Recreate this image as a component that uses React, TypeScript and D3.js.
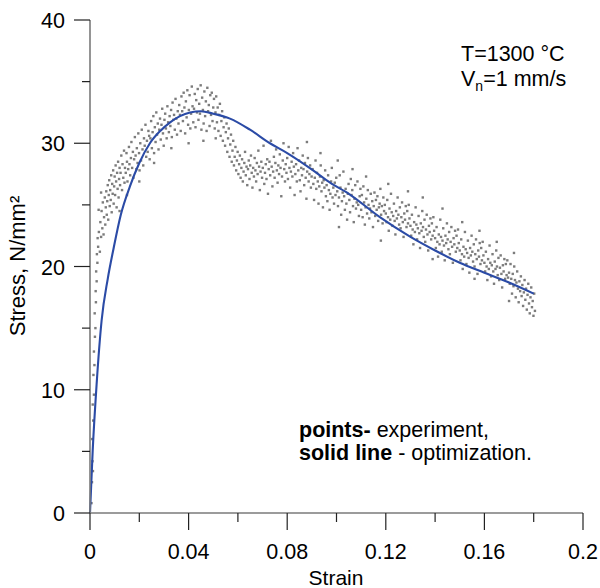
import * as d3 from 'd3';

const rise: [number, number][] = [
  [0.0006,0.8],[0.0008,2.5],[0.0010,4.2],[0.0012,3.4],[0.0009,6.0],[0.0013,7.5],[0.0011,8.8],[0.0016,9.6],
  [0.0014,11.2],[0.0018,12.0],[0.0016,13.1],[0.0020,14.3],[0.0022,15.0],[0.0019,16.2],[0.0024,17.1],[0.0023,18.0],
  [0.0027,18.8],[0.0025,19.6],[0.0030,20.3],[0.0028,21.0],[0.0033,21.6],[0.0031,22.3],[0.0035,24.6],[0.0045,26.0],
];

const climb: [number, number][] = [
  [0.0036,22.8],[0.0040,21.2],[0.0042,23.6],[0.0045,22.4],[0.0047,24.5],[0.0050,23.1],[0.0052,25.2],[0.0055,22.6],
  [0.0057,24.0],[0.0060,25.6],[0.0062,23.4],[0.0064,24.8],
  [0.0066,26.1],[0.0068,24.2],[0.0070,25.3],[0.0072,26.6],[0.0074,23.8],[0.0076,25.8],[0.0078,27.0],[0.0080,24.9],
  [0.0082,26.2],[0.0084,25.4],[0.0086,27.4],[0.0088,24.4],[0.0090,26.7],[0.0092,25.9],
  [0.0094,27.8],[0.0096,25.1],[0.0098,26.5],[0.0100,27.3],[0.0102,25.8],[0.0104,28.2],[0.0106,26.9],[0.0108,24.8],
  [0.0110,27.6],[0.0112,26.3],[0.0114,28.5],[0.0116,25.6],[0.0118,27.1],[0.0120,28.0],[0.0122,26.6],
  [0.0124,27.6],[0.0127,29.0],[0.0130,26.2],[0.0132,28.3],[0.0135,27.2],[0.0138,29.4],[0.0140,26.8],[0.0142,28.0],
  [0.0145,27.6],[0.0148,29.2],[0.0150,28.5],[0.0152,26.9],[0.0155,27.9],[0.0158,29.7],[0.0160,28.3],
  [0.0163,27.4],[0.0166,28.8],[0.0168,30.1],[0.0171,28.0],[0.0174,29.3],[0.0176,27.2],[0.0179,28.7],[0.0182,30.5],
  [0.0185,29.0],[0.0188,27.9],[0.0190,29.6],[0.0193,28.4],[0.0196,30.8],[0.0199,29.2],[0.0201,27.8],
  [0.0204,30.0],[0.0207,28.6],[0.0210,31.1],[0.0213,29.5],[0.0216,28.2],[0.0219,30.4],[0.0222,29.8],[0.0225,31.5],
  [0.0228,28.9],[0.0231,30.2],[0.0234,29.3],[0.0237,31.0],[0.0240,30.6],[0.0242,28.7],
  [0.0245,30.4],[0.0248,31.8],[0.0251,29.6],[0.0254,30.9],[0.0257,32.2],[0.0260,29.2],[0.0263,31.3],[0.0266,30.1],
  [0.0269,32.5],[0.0272,30.7],[0.0275,31.6],[0.0278,29.5],[0.0281,31.1],[0.0284,32.0],
  [0.0287,30.3],[0.0290,31.5],[0.0293,32.8],[0.0296,30.8],[0.0299,29.8],[0.0302,31.9],[0.0305,32.4],[0.0308,31.2],
  [0.0311,30.4],[0.0314,33.0],[0.0317,31.7],[0.0320,30.9],[0.0323,32.2],
  [0.0326,31.4],[0.0329,32.7],[0.0332,30.5],[0.0335,33.3],[0.0338,31.9],[0.0341,32.3],[0.0344,31.1],[0.0347,33.6],
  [0.0350,32.0],[0.0353,30.7],[0.0356,32.6],[0.0359,31.6],[0.0362,33.1],
  [0.0120,24.5],[0.0150,25.8],[0.0200,26.9],[0.0260,28.4],[0.0330,29.6],
];

const peak: [number, number][] = [
  [0.0365,32.3],[0.0368,31.0],[0.0371,33.8],[0.0374,32.6],[0.0377,31.8],[0.0380,34.1],[0.0383,32.9],[0.0386,30.8],
  [0.0389,33.4],[0.0392,32.1],[0.0395,34.3],[0.0398,31.5],[0.0401,32.7],[0.0404,33.9],[0.0407,31.2],[0.0410,32.4],
  [0.0413,34.6],[0.0416,33.0],[0.0419,31.7],[0.0422,32.8],[0.0425,34.0],[0.0428,31.3],[0.0431,33.5],[0.0434,32.5],
  [0.0437,34.4],[0.0440,31.9],
  [0.0443,33.2],[0.0446,32.4],[0.0449,34.7],[0.0452,31.1],[0.0455,33.7],[0.0458,32.7],[0.0461,31.6],[0.0464,34.2],
  [0.0467,32.2],[0.0470,33.4],[0.0473,31.0],[0.0476,34.5],[0.0479,32.6],[0.0482,33.1],[0.0485,31.4],[0.0488,33.9],
  [0.0491,32.3],[0.0494,34.1],[0.0497,31.8],[0.0500,32.9],[0.0503,33.6],[0.0506,31.2],[0.0509,32.5],[0.0512,33.8],
  [0.0515,31.7],[0.0518,32.9],
  [0.0400,30.0],[0.0460,30.2],[0.0510,30.4],
];

const drop: [number, number][] = [
  [0.0521,31.0],[0.0524,32.3],[0.0527,33.2],[0.0530,30.6],[0.0533,31.8],[0.0536,32.6],[0.0539,30.2],[0.0542,31.3],
  [0.0545,32.1],[0.0548,29.8],[0.0551,30.9],[0.0554,31.6],[0.0557,29.3],[0.0560,30.4],[0.0563,31.2],[0.0566,28.9],
  [0.0569,29.9],[0.0572,30.7],[0.0575,28.5],[0.0578,29.4],[0.0581,30.2],[0.0584,28.2],[0.0587,28.9],[0.0590,29.7],
  [0.0593,27.8],[0.0596,28.6],[0.0599,29.3],[0.0602,27.5],
  [0.0605,28.3],[0.0608,29.0],[0.0611,27.2],[0.0614,28.0],[0.0617,28.7],[0.0620,26.9],[0.0623,27.7],[0.0626,28.4],
  [0.0629,29.3],[0.0632,27.4],[0.0635,28.1],[0.0638,26.6],[0.0641,27.9],[0.0644,28.6],[0.0647,27.1],[0.0650,28.2],
  [0.0653,29.0],[0.0656,27.6],[0.0659,26.4],[0.0662,28.0],[0.0665,27.3],[0.0668,28.8],[0.0671,27.8],[0.0674,26.9],
  [0.0677,28.4],[0.0680,27.5],[0.0683,29.4],[0.0686,28.1],[0.0689,26.2],[0.0692,27.7],[0.0695,28.5],[0.0698,27.2],
];

const plateau: [number, number][] = [
  [0.0701,28.0],[0.0704,29.8],[0.0707,26.7],[0.0710,27.6],[0.0713,28.3],[0.0716,27.1],[0.0719,28.7],[0.0722,25.9],
  [0.0725,27.9],[0.0728,28.5],[0.0731,27.4],[0.0734,30.2],[0.0737,28.1],[0.0740,26.5],[0.0743,27.7],[0.0746,28.9],
  [0.0749,27.2],[0.0752,28.4],[0.0755,29.5],[0.0758,27.8],[0.0761,26.8],[0.0764,28.2],[0.0767,27.5],[0.0770,29.1],
  [0.0773,28.0],[0.0776,25.7],[0.0779,27.3],[0.0782,28.6],[0.0785,30.0],[0.0788,27.9],[0.0791,26.9],[0.0794,28.3],
  [0.0797,27.6],
  [0.0800,28.8],[0.0803,27.1],[0.0806,29.7],[0.0809,28.0],[0.0812,26.4],[0.0815,27.7],[0.0818,28.5],[0.0821,27.3],
  [0.0824,29.2],[0.0827,28.1],[0.0830,25.8],[0.0833,27.5],[0.0836,28.3],[0.0839,26.9],[0.0842,29.6],[0.0845,27.8],
  [0.0848,28.6],[0.0851,27.0],[0.0854,26.1],[0.0857,28.0],[0.0860,27.4],[0.0863,29.0],[0.0866,27.9],[0.0869,26.6],
  [0.0872,28.4],[0.0875,27.2],[0.0878,25.5],[0.0881,27.7],[0.0884,28.8],[0.0887,26.9],[0.0890,27.5],[0.0893,28.2],
  [0.0896,26.4],[0.0899,27.3],[0.0880,30.1],
];

const descent: [number, number][] = [
  [0.0903,27.9],[0.0906,26.7],[0.0909,25.4],[0.0912,27.2],[0.0915,28.6],[0.0918,26.3],[0.0921,27.6],[0.0924,26.9],
  [0.0927,25.1],[0.0930,26.5],[0.0933,27.3],[0.0936,28.2],[0.0939,26.1],[0.0942,26.8],[0.0945,24.8],[0.0948,27.0],
  [0.0951,26.4],[0.0954,27.8],[0.0957,25.7],[0.0960,26.6],[0.0963,25.3],[0.0966,27.4],[0.0969,26.2],[0.0972,24.6],
  [0.0975,25.9],[0.0978,26.9],[0.0981,28.0],[0.0984,25.6],[0.0987,26.4],[0.0990,25.1],[0.0993,26.8],[0.0996,25.8],
  [0.0999,27.2],
  [0.1003,26.1],[0.1006,24.9],[0.1010,25.6],[0.1013,27.4],[0.1016,26.4],[0.1019,24.2],[0.1022,25.3],[0.1025,26.0],
  [0.1028,27.7],[0.1031,25.7],[0.1034,24.6],[0.1037,26.3],[0.1040,25.1],[0.1043,23.8],[0.1046,25.9],[0.1049,26.7],
  [0.1052,25.4],[0.1055,24.4],[0.1058,27.1],[0.1061,25.8],[0.1064,26.2],[0.1067,24.9],[0.1070,23.6],[0.1073,25.5],
  [0.1076,26.6],[0.1079,24.7],[0.1082,25.2],[0.1085,26.9],[0.1088,25.0],[0.1091,24.1],[0.1094,25.7],[0.1097,26.3],
  [0.1100,24.6],[0.1103,25.8],[0.1106,24.0],[0.1109,26.5],[0.1112,25.2],[0.1115,23.4],[0.1118,24.8],[0.1121,25.5],
  [0.1124,24.3],[0.1127,26.2],[0.1130,25.0],[0.1133,23.9],[0.1136,24.7],[0.1139,25.9],[0.1142,24.4],[0.1145,25.3],
  [0.1148,23.2],[0.1151,24.9],[0.1154,26.0],[0.1157,24.1],[0.1160,25.4],[0.1163,24.6],[0.1166,25.7],[0.1169,23.7],
  [0.1172,24.8],[0.1175,25.1],[0.1178,26.3],[0.1181,24.2],[0.1184,24.9],[0.1187,23.5],[0.1190,25.6],[0.1193,24.5],
  [0.1196,25.0],
  [0.1200,24.3],[0.1203,23.6],[0.1206,25.4],[0.1209,24.0],[0.1212,22.9],[0.1215,24.7],[0.1218,23.8],[0.1221,25.9],
  [0.1224,24.4],[0.1227,23.3],[0.1230,24.1],[0.1233,25.1],[0.1236,23.7],[0.1239,22.6],[0.1242,24.5],[0.1245,23.9],
  [0.1248,25.6],[0.1251,24.2],[0.1254,23.4],[0.1257,24.8],[0.1260,23.1],[0.1263,24.0],[0.1266,25.2],[0.1269,23.6],
  [0.1272,22.4],[0.1275,24.3],[0.1278,23.8],[0.1281,24.9],[0.1284,23.2],[0.1287,24.5],[0.1290,23.5],[0.1293,25.0],
  [0.1296,23.9],
  [0.0935,29.2],[0.1005,28.6],[0.1065,27.9],[0.1120,27.3],[0.1210,26.7],[0.1290,26.1],[0.1010,23.2],[0.1180,22.1],
];

const tail: [number, number][] = [
  [0.1300,23.3],[0.1303,22.5],[0.1306,24.2],[0.1309,23.0],[0.1312,21.8],[0.1315,23.6],[0.1318,22.8],[0.1321,24.8],
  [0.1324,23.4],[0.1327,22.2],[0.1330,23.1],[0.1333,24.1],[0.1336,22.7],[0.1339,21.5],[0.1342,23.5],[0.1345,22.9],
  [0.1348,24.5],[0.1351,23.2],[0.1354,22.4],[0.1357,23.8],[0.1360,22.0],[0.1363,23.0],[0.1366,24.2],[0.1369,22.6],
  [0.1372,21.3],[0.1375,23.3],[0.1378,22.8],[0.1381,23.9],[0.1384,22.2],[0.1387,23.5],[0.1390,22.5],[0.1393,24.0],
  [0.1396,22.9],
  [0.1400,22.3],[0.1403,21.5],[0.1406,23.2],[0.1409,22.0],[0.1412,20.8],[0.1415,22.6],[0.1418,21.8],[0.1421,23.8],
  [0.1424,22.4],[0.1427,21.2],[0.1430,22.1],[0.1433,23.1],[0.1436,21.7],[0.1439,20.5],[0.1442,22.5],[0.1445,21.9],
  [0.1448,23.5],[0.1451,22.2],[0.1454,21.4],[0.1457,22.8],[0.1460,21.0],[0.1463,22.0],[0.1466,23.2],[0.1469,21.6],
  [0.1472,20.3],[0.1475,22.3],[0.1478,21.8],[0.1481,22.9],[0.1484,21.2],[0.1487,22.5],[0.1490,21.5],[0.1493,23.0],
  [0.1496,21.9],
  [0.1500,21.3],[0.1503,20.5],[0.1506,22.2],[0.1509,21.0],[0.1512,19.8],[0.1515,21.6],[0.1518,20.8],[0.1521,22.8],
  [0.1524,21.4],[0.1527,20.2],[0.1530,21.1],[0.1533,22.1],[0.1536,20.7],[0.1539,19.5],[0.1542,21.5],[0.1545,20.9],
  [0.1548,22.5],[0.1551,21.2],[0.1554,20.4],[0.1557,21.8],[0.1560,20.0],[0.1563,21.0],[0.1566,22.2],[0.1569,20.6],
  [0.1572,19.4],[0.1575,21.3],[0.1578,20.8],[0.1581,21.9],[0.1584,20.2],[0.1587,21.5],[0.1590,20.5],[0.1593,22.0],
  [0.1596,20.9],
  [0.1600,20.3],[0.1603,19.6],[0.1606,21.2],[0.1609,20.0],[0.1612,18.9],[0.1615,20.6],[0.1618,19.8],[0.1621,21.7],
  [0.1624,20.3],[0.1627,19.2],[0.1630,20.1],[0.1633,21.0],[0.1636,19.6],[0.1639,18.6],[0.1642,20.4],[0.1645,19.8],
  [0.1648,21.3],[0.1651,20.0],[0.1654,19.3],[0.1657,20.7],[0.1660,18.9],[0.1663,19.9],[0.1666,20.9],[0.1669,19.4],
  [0.1672,18.3],[0.1675,20.1],[0.1678,19.6],[0.1681,20.6],[0.1684,19.0],[0.1687,20.2],[0.1690,19.3],[0.1693,20.5],
  [0.1696,19.1],
  [0.1700,19.5],[0.1703,18.6],[0.1706,20.2],[0.1709,19.0],[0.1712,17.8],[0.1715,19.4],[0.1718,18.4],[0.1721,20.0],
  [0.1724,18.9],[0.1727,17.5],[0.1730,18.7],[0.1733,19.6],[0.1736,18.2],[0.1739,17.1],[0.1742,18.8],[0.1745,18.0],
  [0.1748,19.2],[0.1751,17.6],[0.1754,18.5],[0.1757,16.8],[0.1760,17.9],[0.1763,18.9],[0.1766,17.3],[0.1769,18.2],
  [0.1772,16.5],[0.1775,17.7],[0.1778,18.6],[0.1781,17.0],[0.1784,16.2],[0.1787,17.5],[0.1790,18.3],[0.1793,16.7],
  [0.1796,17.2],[0.1799,16.0],[0.1802,17.8],[0.1805,16.4],
  [0.1350,25.6],[0.1430,24.7],[0.1510,23.6],[0.1580,22.9],[0.1650,22.0],[0.1720,21.1],[0.1390,20.6],[0.1560,19.0],
  [0.1700,17.2],
];

// optimization curve
const optimization: [number, number][] = [
  [0,0],[0.0011,5.1],[0.0027,10.5],[0.0047,15.6],[0.0072,19.0],[0.0095,21.4],[0.0125,24.2],[0.0162,26.5],
  [0.02,28.4],[0.0243,30.0],[0.0285,31.0],[0.0325,31.7],[0.0365,32.2],[0.0406,32.5],[0.045,32.6],[0.05,32.4],
  [0.0568,32.0],[0.0649,31.1],[0.073,30.0],[0.08,29.2],[0.0905,27.8],[0.0974,26.8],[0.105,25.9],[0.1176,24.0],
  [0.13,22.4],[0.14,21.3],[0.15,20.3],[0.16,19.5],[0.17,18.7],[0.18,17.8],
];

const xMajor = [0, 0.04, 0.08, 0.12, 0.16, 0.2];
const xMajorLabels = ['0', '0.04', '0.08', '0.12', '0.16', '0.2'];
const xMinor = [0.02, 0.06, 0.1, 0.14, 0.18];
const yMajor = [0, 10, 20, 30, 40];
const yMinor = [5, 15, 25, 35];

const font = 'Liberation Sans, Arial, sans-serif';

export default function App() {
  const width = 600;
  const height = 588;

  const x = d3.scaleLinear().domain([0, 0.2]).range([90, 583]);
  const y = d3.scaleLinear().domain([0, 40]).range([513, 20]);

  const points = [...rise, ...climb, ...peak, ...drop, ...plateau, ...descent, ...tail];

  const line = d3.line<[number, number]>()
    .x(d => x(d[0]))
    .y(d => y(d[1]))
    .curve(d3.curveMonotoneX);

  const axisColor = '#7a7a7a';
  const tickColor = '#222';

  return (
    <svg width={width} height={height} style={{ position: 'absolute', left: 0, top: 0, background: '#fff' }}>
      {/* experiment */}
      <g fill="#7c7c7c">
        {points.map((d, i) => (
          <rect key={i} x={x(d[0]) - 1.2} y={y(d[1]) - 1.2} width={2.4} height={2.4} />
        ))}
      </g>

      {/* optimization */}
      <path d={line(optimization) ?? ''} fill="none" stroke="#2b4ba6" strokeWidth={2.1} />

      {/* axes */}
      <line x1={x(0)} x2={x(0.2)} y1={y(0)} y2={y(0)} stroke={axisColor} strokeWidth={1.6} />
      <line x1={x(0)} x2={x(0)} y1={y(0)} y2={y(40)} stroke={axisColor} strokeWidth={1.6} />

      {xMajor.map((t, i) => (
        <g key={'xm' + i}>
          <line x1={x(t)} x2={x(t)} y1={y(0)} y2={y(0) + 17} stroke={tickColor} strokeWidth={1.2} />
          <text x={x(t)} y={y(0) + 46} textAnchor="middle" fontFamily={font} fontSize={21.5}>{xMajorLabels[i]}</text>
        </g>
      ))}
      {xMinor.map((t, i) => (
        <line key={'xn' + i} x1={x(t)} x2={x(t)} y1={y(0)} y2={y(0) + 9} stroke={tickColor} strokeWidth={1.2} />
      ))}
      {yMajor.map((t, i) => (
        <g key={'ym' + i}>
          <line x1={x(0) - 16} x2={x(0)} y1={y(t)} y2={y(t)} stroke={tickColor} strokeWidth={1.2} />
          <text x={x(0) - 25} y={y(t) + 8} textAnchor="end" fontFamily={font} fontSize={21.5}>{t}</text>
        </g>
      ))}
      {yMinor.map((t, i) => (
        <line key={'yn' + i} x1={x(0) - 8} x2={x(0)} y1={y(t)} y2={y(t)} stroke={tickColor} strokeWidth={1.2} />
      ))}

      <text x={336} y={585} textAnchor="middle" fontFamily={font} fontSize={21}>Strain</text>
      <text transform="translate(25,266) rotate(-90)" textAnchor="middle" fontFamily={font} fontSize={22}>
        Stress, N/mm²
      </text>

      <text x={461} y={61} fontFamily={font} fontSize={21.5}>T=1300 °C</text>
      <text x={461} y={86} fontFamily={font} fontSize={21.5}>
        V<tspan fontSize={14} dy={5}>n</tspan><tspan dy={-5}>=1 mm/s</tspan>
      </text>

      <text x={299} y={437} fontFamily={font} fontSize={21.5}>
        <tspan fontWeight="bold">points-</tspan> experiment,
      </text>
      <text x={299} y={460} fontFamily={font} fontSize={21.5}>
        <tspan fontWeight="bold">solid line</tspan> - optimization.
      </text>
    </svg>
  );
}
